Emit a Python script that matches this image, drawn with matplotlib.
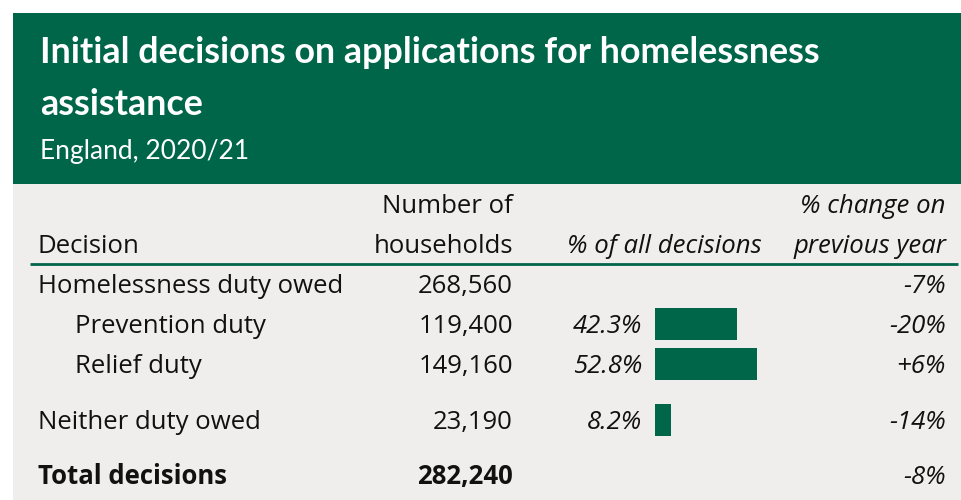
import matplotlib
matplotlib.use("Agg")
import matplotlib.pyplot as plt
from matplotlib.patches import Rectangle

GREEN = "#00664a"
GREY = "#efeeec"

title = "Initial decisions on applications for homelessness\nassistance"
subtitle = "England, 2020/21"

decisions = ["Homelessness duty owed", "Prevention duty", "Relief duty",
             "Neither duty owed", "Total decisions"]
households = [268560, 119400, 149160, 23190, 282240]
share_pct = [None, 42.3, 52.8, 8.2, None]
change_pct = [-7, -20, 6, -14, -8]
indented = [False, True, True, False, False]

W, H = 962, 500
fig = plt.figure(figsize=(W / 100, H / 100), dpi=100)
ax = fig.add_axes([0, 0, 1, 1])
ax.set_xlim(0, W)
ax.set_ylim(H, 0)
ax.axis("off")

# header block and table background
ax.add_patch(Rectangle((13, 13), W - 13, 171, color=GREEN, lw=0))
ax.add_patch(Rectangle((13, 184), W - 13, H - 184, color=GREY, lw=0))

head = dict(color="white", family="Lato", va="baseline")
ax.text(40, 63, title.split("\n")[0], fontsize=25.8, fontweight="bold", **head)
ax.text(40, 115, title.split("\n")[1], fontsize=25.8, fontweight="bold", **head)
ax.text(40, 159, subtitle, fontsize=19, **head)

body = dict(fontsize=18.5, family="Open Sans", color="#111111", va="baseline")

# column headings
ax.text(38, 253, "Decision", **body)
ax.text(513, 213, "Number of", ha="right", **body)
ax.text(513, 253, "households", ha="right", **body)
ax.text(762, 253, "% of all decisions", ha="right", style="italic", **body)
ax.text(946, 213, "% change on", ha="right", style="italic", **body)
ax.text(946, 253, "previous year", ha="right", style="italic", **body)
ax.plot([30, 958], [264, 264], color=GREEN, lw=2, solid_capstyle="butt")

row_y = [293, 333, 373, 429, 484]

# bars for share of all decisions, scaled in percent
bar_ax = fig.add_axes([655 / W, 0, 194 / W, 1])
bar_ax.set_xlim(0, 100)
bar_ax.set_ylim(H, 0)
bar_ax.axis("off")
bar_ax.patch.set_alpha(0)

for i, name in enumerate(decisions):
    y = row_y[i]
    weight = "bold" if name.startswith("Total") else "normal"
    x0 = 75 if indented[i] else 38
    ax.text(x0, y, name, fontweight=weight, **body)
    ax.text(513, y, f"{households[i]:,}", ha="right", fontweight=weight, **body)
    ax.text(946, y, f"{change_pct[i]:+d}%", ha="right", style="italic", **body)
    if share_pct[i] is not None:
        ax.text(642, y, f"{share_pct[i]:.1f}%", ha="right", style="italic", **body)
        bar_ax.barh(y - 9, share_pct[i], height=32, color=GREEN, left=0)

fig.savefig("out.png", dpi=100)
